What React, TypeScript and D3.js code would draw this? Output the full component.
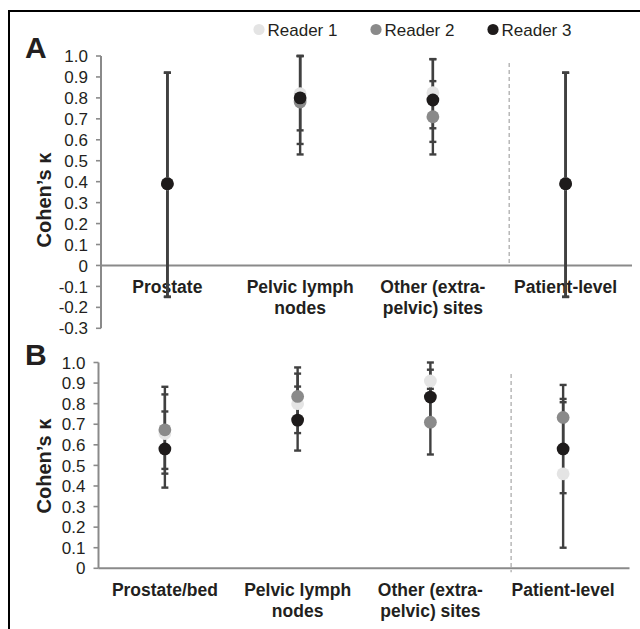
import React from "react";
import * as d3 from "d3";

// ---------- data ----------
const readers = ["Reader 1", "Reader 2", "Reader 3"];
const readerColors = ["#e4e4e4", "#8a8a8a", "#1e1b1b"];

const catsA = ["Prostate", "Pelvic lymph nodes", "Other (extra-pelvic) sites", "Patient-level"];
const catLinesA = [["Prostate"], ["Pelvic lymph", "nodes"], ["Other (extra-", "pelvic) sites"], ["Patient-level"]];
// kappa per reader [R1,R2,R3] per category
const kappaA = [
  [0.39, 0.39, 0.39],
  [0.82, 0.78, 0.80],
  [0.825, 0.71, 0.79],
  [0.39, 0.39, 0.39],
];
const lowA = [
  [-0.15, -0.15, -0.15],
  [0.645, 0.53, 0.58],
  [0.655, 0.53, 0.59],
  [-0.15, -0.15, -0.15],
];
const highA = [
  [0.92, 0.92, 0.92],
  [1.0, 1.0, 1.0],
  [0.985, 0.88, 0.985],
  [0.92, 0.92, 0.92],
];
const ticksA = [1.0, 0.9, 0.8, 0.7, 0.6, 0.5, 0.4, 0.3, 0.2, 0.1, 0, -0.1, -0.2, -0.3];

const catsB = ["Prostate/bed", "Pelvic lymph nodes", "Other (extra-pelvic) sites", "Patient-level"];
const catLinesB = [["Prostate/bed"], ["Pelvic lymph", "nodes"], ["Other (extra-", "pelvic) sites"], ["Patient-level"]];
const kappaB = [
  [0.655, 0.673, 0.58],
  [0.80, 0.835, 0.72],
  [0.91, 0.71, 0.832],
  [0.459, 0.733, 0.58],
];
const lowB = [
  [0.46, 0.483, 0.392],
  [0.657, 0.70, 0.572],
  [0.82, 0.553, 0.70],
  [0.10, 0.57, 0.365],
];
const highB = [
  [0.845, 0.882, 0.762],
  [0.946, 0.976, 0.883],
  [1.0, 0.872, 0.965],
  [0.807, 0.891, 0.823],
];
const ticksB = [1.0, 0.9, 0.8, 0.7, 0.6, 0.5, 0.4, 0.3, 0.2, 0.1, 0];

const FONT = "'Liberation Sans', Arial, Helvetica, sans-serif";
const AXIS = "#8a8a8a";
const BAR = "#404040";
const TXT = "#231f20";

type PanelProps = {
  label: string;
  cats: string[];
  lines: string[][];
  kappa: number[][];
  low: number[][];
  high: number[][];
  ticks: number[];
  x0: number;
  x1: number;
  yTop: number;
  yBottom: number;
  dashOffset: number;
  dashTop: number;
  labelY: number;
  titleY: number;
};

function Panel(p: PanelProps) {
  const yMin = d3.min(p.ticks) as number;
  const yMax = d3.max(p.ticks) as number;
  const y = d3.scaleLinear().domain([yMin, yMax]).range([p.yBottom, p.yTop]);
  const x = d3.scaleBand<string>().domain(p.cats).range([p.x0, p.x1]).padding(0);
  const cx = (c: string) => (x(c) as number) + x.bandwidth() / 2;
  const capW = 3.5;
  const lastCat = p.cats[p.cats.length - 1];
  const dashX = cx(lastCat) - p.dashOffset;
  const fmt = (v: number) => (v === 0 ? "0" : d3.format(".1f")(v).replace("\u2212", "-"));
  return (
    <g>
      {/* panel letter */}
      <text x={25} y={p.yTop + 2} fontFamily={FONT} fontWeight="bold" fontSize={30} fill={TXT}>
        {p.label}
      </text>
      {/* y title */}
      <text
        transform={`translate(44,${p.titleY}) rotate(-90)`}
        textAnchor="middle"
        dominantBaseline="central"
        fontFamily={FONT}
        fontWeight="bold"
        fontSize={20}
        fill={TXT}
      >
        Cohen’s κ
      </text>
      {/* y axis */}
      <line x1={p.x0} x2={p.x0} y1={y(yMax)} y2={y(yMin)} stroke={AXIS} strokeWidth={2} />
      {p.ticks.map((t) => (
        <g key={t}>
          <line x1={p.x0 - 5} x2={p.x0} y1={y(t)} y2={y(t)} stroke={AXIS} strokeWidth={1.6} />
          <text
            x={p.x0 - 13}
            y={y(t)}
            dy="0.36em"
            textAnchor="end"
            fontFamily={FONT}
            fontSize={17}
            fill={TXT}
          >
            {fmt(t)}
          </text>
        </g>
      ))}
      {/* zero line */}
      <line x1={p.x0} x2={p.x1} y1={y(0)} y2={y(0)} stroke={AXIS} strokeWidth={2} />
      {/* dashed separator */}
      <line
        x1={dashX}
        x2={dashX}
        y1={p.dashTop}
        y2={y(0) + (yMin < 0 ? -2 : 4)}
        stroke="#b8b8b8"
        strokeWidth={1.5}
        strokeDasharray="4,3"
      />
      {/* category labels */}
      {p.cats.map((c, i) => (
        <text
          key={c}
          x={cx(c)}
          y={y(0) + p.labelY}
          textAnchor="middle"
          fontFamily={FONT}
          fontWeight="bold"
          fontSize={17.5}
          fill={TXT}
        >
          {p.lines[i].map((ln, j) => (
            <tspan key={j} x={cx(c)} dy={j === 0 ? 0 : 21}>
              {ln}
            </tspan>
          ))}
        </text>
      ))}
      {/* error bars */}
      {p.cats.map((c, i) =>
        readers.map((r, k) => (
          <g key={c + r} stroke={BAR} strokeWidth={2.4}>
            <line x1={cx(c)} x2={cx(c)} y1={y(p.low[i][k])} y2={y(p.high[i][k])} />
            <line x1={cx(c) - capW} x2={cx(c) + capW} y1={y(p.low[i][k])} y2={y(p.low[i][k])} />
            <line x1={cx(c) - capW} x2={cx(c) + capW} y1={y(p.high[i][k])} y2={y(p.high[i][k])} />
          </g>
        ))
      )}
      {/* points */}
      {p.cats.map((c, i) =>
        readers.map((r, k) => (
          <circle key={"p" + c + r} cx={cx(c)} cy={y(p.kappa[i][k])} r={6.4} fill={readerColors[k]} />
        ))
      )}
    </g>
  );
}

export default function App() {
  const legendX = d3.scalePoint<string>().domain(readers).range([259, 493]);
  return (
    <svg
      width={640}
      height={629}
      style={{ position: "absolute", left: 0, top: 0, background: "#fff" }}
    >
      <rect x={0} y={0} width={640} height={629} fill="#fff" />
      {/* frame */}
      <line x1={8} x2={640} y1={11} y2={11} stroke="#000" strokeWidth={2} />
      <line x1={9} x2={9} y1={10} y2={629} stroke="#000" strokeWidth={2} />
      {/* legend */}
      {readers.map((r, k) => (
        <g key={r}>
          <circle cx={legendX(r) as number} cy={29.5} r={5.6} fill={readerColors[k]} />
          <text
            x={(legendX(r) as number) + 8.5}
            y={29.5}
            dy="0.36em"
            fontFamily={FONT}
            fontSize={17}
            fill={TXT}
          >
            {r}
          </text>
        </g>
      ))}
      <Panel
        label="A"
        cats={catsA}
        lines={catLinesA}
        kappa={kappaA}
        low={lowA}
        high={highA}
        ticks={ticksA}
        x0={101}
        x1={632}
        yTop={56}
        yBottom={328.3}
        dashOffset={56.4}
        dashTop={63}
        labelY={27.5}
        titleY={200}
      />
      <Panel
        label="B"
        cats={catsB}
        lines={catLinesB}
        kappa={kappaB}
        low={lowB}
        high={highB}
        ticks={ticksB}
        x0={98.5}
        x1={629.5}
        yTop={362.5}
        yBottom={568.3}
        dashOffset={52}
        dashTop={374}
        labelY={27.5}
        titleY={466}
      />
    </svg>
  );
}
